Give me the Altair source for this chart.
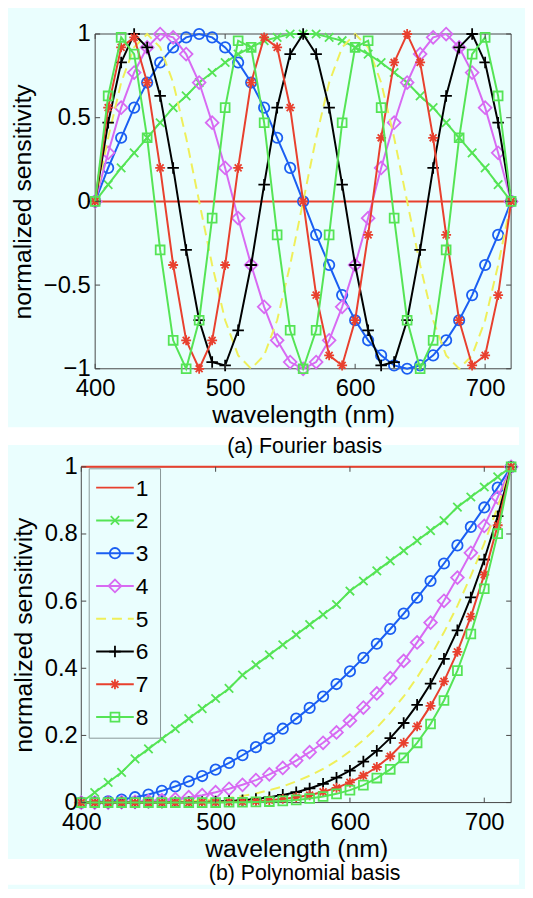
import altair as alt
import pandas as pd

# ---------------- data ----------------
wavelength = [400, 410, 420, 430, 440, 450, 460, 470, 480, 490, 500, 510, 520, 530, 540, 550, 560,
              570, 580, 590, 600, 610, 620, 630, 640, 650, 660, 670, 680, 690, 700, 710, 720]
series_labels = ["1", "2", "3", "4", "5", "6", "7", "8"]
x_tick_values = [400, 500, 600, 700]
fourier_y_ticks = [-1, -0.5, 0, 0.5, 1]
poly_y_ticks = [0, 0.2, 0.4, 0.6, 0.8, 1]

fourier_1 = [0, 0, 0, 0, 0, 0, 0, 0, 0, 0, 0, 0, 0, 0, 0, 0, 0,
             0, 0, 0, 0, 0, 0, 0, 0, 0, 0, 0, 0, 0, 0, 0, 0]
fourier_2 = [0, .10, .20, .29, .38, .47, .56, .63, .71, .77, .83, .88, .92, .96, .98, 1, 1,
             1, .98, .96, .92, .88, .83, .77, .71, .63, .56, .47, .38, .29, .20, .10, 0]
fourier_3 = [0, .20, .38, .56, .71, .83, .92, .98, 1, .98, .92, .83, .71, .56, .38, .20, 0,
             -.20, -.38, -.56, -.71, -.83, -.92, -.98, -1, -.98, -.92, -.83, -.71, -.56, -.38, -.20, 0]
fourier_4 = [0, .29, .56, .77, .92, 1, .98, .88, .71, .47, .20, -.10, -.38, -.63, -.83, -.96, -1,
             -.96, -.83, -.63, -.38, -.10, .20, .47, .71, .88, .98, 1, .92, .77, .56, .29, 0]
fourier_5 = [0, .38, .71, .92, 1, .92, .71, .38, 0, -.38, -.71, -.92, -1, -.92, -.71, -.38, 0,
             .38, .71, .92, 1, .92, .71, .38, 0, -.38, -.71, -.92, -1, -.92, -.71, -.38, 0]
fourier_6 = [0, .47, .83, 1, .92, .63, .20, -.29, -.71, -.96, -.98, -.77, -.38, .10, .56, .88, 1,
             .88, .56, .10, -.38, -.77, -.98, -.96, -.71, -.29, .20, .63, .92, 1, .83, .47, 0]
fourier_7 = [0, .56, .92, .98, .71, .20, -.38, -.83, -1, -.83, -.38, .20, .71, .98, .92, .56, 0,
             -.56, -.92, -.98, -.71, -.20, .38, .83, 1, .83, .38, -.20, -.71, -.98, -.92, -.56, 0]
fourier_8 = [0, .63, .98, .88, .38, -.29, -.83, -1, -.71, -.10, .56, .96, .92, .47, -.20, -.77, -1,
             -.77, -.20, .47, .92, .96, .56, -.10, -.71, -1, -.83, -.29, .38, .88, .98, .63, 0]

poly_1 = [1, 1, 1, 1, 1, 1, 1, 1, 1, 1, 1, 1, 1, 1, 1, 1, 1,
          1, 1, 1, 1, 1, 1, 1, 1, 1, 1, 1, 1, 1, 1, 1, 1]
poly_2 = [0, .03, .06, .09, .13, .16, .19, .22, .25, .28, .31, .34, .38, .41, .44, .47, .5,
          .53, .56, .59, .63, .66, .69, .72, .75, .78, .81, .84, .88, .91, .94, .97, 1]
poly_3 = [0, .001, .004, .009, .016, .024, .035, .048, .063, .079, .098, .118, .141, .165, .191, .220, .25,
          .282, .316, .353, .391, .431, .473, .517, .563, .610, .660, .712, .766, .821, .879, .938, 1]
poly_4 = [0, 0, 0, .001, .002, .004, .007, .010, .016, .022, .031, .041, .053, .067, .084, .103, .125,
          .150, .178, .209, .244, .283, .325, .371, .422, .477, .536, .601, .670, .744, .824, .909, 1]
poly_5 = [0, 0, 0, 0, 0, .001, .001, .002, .004, .006, .010, .014, .020, .027, .037, .048, .063,
          .080, .100, .124, .153, .186, .223, .267, .316, .373, .436, .507, .586, .675, .772, .881, 1]
poly_6 = [0, 0, 0, 0, 0, 0, 0, .001, .001, .002, .003, .005, .007, .011, .016, .023, .031,
          .042, .056, .074, .095, .122, .154, .192, .237, .291, .354, .428, .513, .611, .724, .853, 1]
poly_7 = [0, 0, 0, 0, 0, 0, 0, 0, 0, .001, .001, .002, .003, .004, .007, .011, .016,
          .022, .032, .044, .060, .080, .106, .138, .178, .227, .288, .361, .449, .554, .679, .826, 1]
poly_8 = [0, 0, 0, 0, 0, 0, 0, 0, 0, 0, 0, .001, .001, .002, .003, .005, .008,
          .012, .018, .026, .037, .052, .073, .099, .133, .178, .234, .304, .393, .502, .637, .801, 1]

fourier_series = [fourier_1, fourier_2, fourier_3, fourier_4, fourier_5, fourier_6, fourier_7, fourier_8]
poly_series = [poly_1, poly_2, poly_3, poly_4, poly_5, poly_6, poly_7, poly_8]

# ---------------- styles / layout ----------------
BG = "#EAFEFE"
FONT = "Liberation Sans"
FRAME = "#474747"
colors = ["#E8402E", "#55E455", "#1A5EF2", "#D86AF2", "#EFEF5A", "#000000", "#E8402E", "#55E455"]
dashed = [False, False, False, False, True, False, False, False]
shapes = [None,
          "M-1,-1L1,1M-1,1L1,-1",
          "circle",
          "diamond",
          None,
          "M-1,0L1,0M0,-1L0,1",
          "M-1,0L1,0M0,-1L0,1M-0.7,-0.7L0.7,0.7M-0.7,0.7L0.7,-0.7",
          "square"]
sizes = [0, 72, 110, 165, 0, 135, 100, 80]

one_row = pd.DataFrame({"a": [0]})

LEFT_EXT = 88    # painted area to the left of the plot origin
W = 420          # common plot width (both panels share the same left origin)
RIGHT = W + 8    # right edge of the painted area
LEFT2 = -14      # panel (b) axis starts 14 px further left
H1, H2 = 338, 339
CAP_X = 211.5


def series_layers(values, X, Y):
    layers = []
    for k in range(8):
        df = pd.DataFrame({"x": wavelength, "y": values[k]})
        lkw = dict(color=colors[k], strokeWidth=2)
        if dashed[k]:
            lkw["strokeDash"] = [10, 6]
        layers.append(alt.Chart(df).mark_line(**lkw).encode(x=X, y=Y))
        if shapes[k]:
            layers.append(
                alt.Chart(df).mark_point(shape=shapes[k], size=sizes[k], filled=False,
                                         color=colors[k], strokeWidth=1.8, opacity=1)
                .encode(x=X, y=Y))
    return layers


def frame_layers(X, Y, x0, H, yticks):
    xt = pd.DataFrame({"x": x_tick_values})
    yt = pd.DataFrame({"y": yticks})
    back = [alt.Chart(one_row).mark_rect(fillOpacity=0, stroke=FRAME, strokeWidth=1).encode(
        x=alt.value(x0), x2=alt.value(W), y=alt.value(0), y2=alt.value(H))]
    ticks = [
        alt.Chart(xt).mark_rule(color=FRAME, strokeWidth=1).encode(x=X, y=alt.value(H), y2=alt.value(H - 5)),
        alt.Chart(xt).mark_rule(color=FRAME, strokeWidth=1).encode(x=X, y=alt.value(0), y2=alt.value(5)),
        alt.Chart(yt).mark_rule(color=FRAME, strokeWidth=1).encode(y=Y, x=alt.value(x0), x2=alt.value(x0 + 5)),
        alt.Chart(yt).mark_rule(color=FRAME, strokeWidth=1).encode(y=Y, x=alt.value(W), x2=alt.value(W - 5)),
    ]
    return back, ticks


def encodings(x0, ydom, yticks, ylabpad):
    X = alt.X("x:Q", scale=alt.Scale(domain=[400, 720], nice=False, zero=False, range=[x0, W]),
              axis=alt.Axis(values=x_tick_values, title="wavelength (nm)", labelPadding=8,
                            titlePadding=2, zindex=1))
    Y = alt.Y("y:Q", scale=alt.Scale(domain=ydom, nice=False, zero=False),
              axis=alt.Axis(values=yticks, format="~g", title="normalized sensitivity",
                            labelPadding=ylabpad, titlePadding=8, offset=-x0, zindex=1))
    return X, Y


# ---------------- panel (a): Fourier basis ----------------
X1, Y1 = encodings(0, [-1, 1], fourier_y_ticks, 5)
bounds1 = alt.Chart(one_row).mark_rect(opacity=0).encode(
    x=alt.value(-LEFT_EXT), x2=alt.value(RIGHT), y=alt.value(-22), y2=alt.value(397))
f1_back, f1_ticks = frame_layers(X1, Y1, 0, H1, fourier_y_ticks)
top = alt.layer(bounds1, *f1_back, *series_layers(fourier_series, X1, Y1),
                *f1_ticks).properties(width=W, height=H1)

# ---------------- panel (b): Polynomial basis ----------------
X2, Y2 = encodings(LEFT2, [0, 1], poly_y_ticks, 4)
band = alt.Chart(one_row).mark_rect(color="white").encode(
    x=alt.value(-LEFT_EXT), x2=alt.value(RIGHT), y=alt.value(-40), y2=alt.value(-22))
foot = alt.Chart(one_row).mark_rect(color="white").encode(
    x=alt.value(-LEFT_EXT), x2=alt.value(RIGHT), y=alt.value(396), y2=alt.value(422))
cap_a = alt.Chart(one_row).mark_text(text="(a) Fourier basis", font=FONT, fontSize=21.5, color="black",
                                     align="center", baseline="alphabetic").encode(
    x=alt.value(CAP_X), y=alt.value(-14))
cap_b = alt.Chart(one_row).mark_text(text="(b) Polynomial basis", font=FONT, fontSize=21.5, color="black",
                                     align="center", baseline="alphabetic").encode(
    x=alt.value(CAP_X), y=alt.value(417))

legend_layers = [alt.Chart(one_row).mark_rect(fill=BG, stroke="#8A9898", strokeWidth=1).encode(
    x=alt.value(-6), x2=alt.value(66), y=alt.value(2), y2=alt.value(274))]
for k, lab in enumerate(series_labels):
    yk = 21 + k * 33.1
    rkw = dict(color=colors[k], strokeWidth=2)
    if dashed[k]:
        rkw["strokeDash"] = [10, 6]
    legend_layers.append(alt.Chart(one_row).mark_rule(**rkw).encode(
        x=alt.value(1), x2=alt.value(39), y=alt.value(yk)))
    if shapes[k]:
        legend_layers.append(alt.Chart(one_row).mark_point(
            shape=shapes[k], size=sizes[k], filled=False, color=colors[k], strokeWidth=1.8, opacity=1
        ).encode(x=alt.value(20), y=alt.value(yk)))
    legend_layers.append(alt.Chart(one_row).mark_text(
        text=lab, font=FONT, fontSize=23, color="black", align="left", baseline="middle"
    ).encode(x=alt.value(41), y=alt.value(yk + 1)))

f2_back, f2_ticks = frame_layers(X2, Y2, LEFT2, H2, poly_y_ticks)
bottom = alt.layer(band, foot, *f2_back, *series_layers(poly_series, X2, Y2),
                   *f2_ticks, *legend_layers, cap_a, cap_b).properties(width=W, height=H2)

chart = (
    alt.vconcat(top, bottom, spacing=0)
    .properties(padding=0, background=BG)
    .configure_view(strokeWidth=0)
    .configure_axis(labelFont=FONT, titleFont=FONT, labelFontSize=24, titleFontSize=25,
                    titleFontWeight="normal", labelColor="black", titleColor="black",
                    grid=False, domain=False, ticks=False, labelFlush=False, zindex=1)
)

chart.save("out.html", embed_options={"renderer": "svg", "actions": False})
